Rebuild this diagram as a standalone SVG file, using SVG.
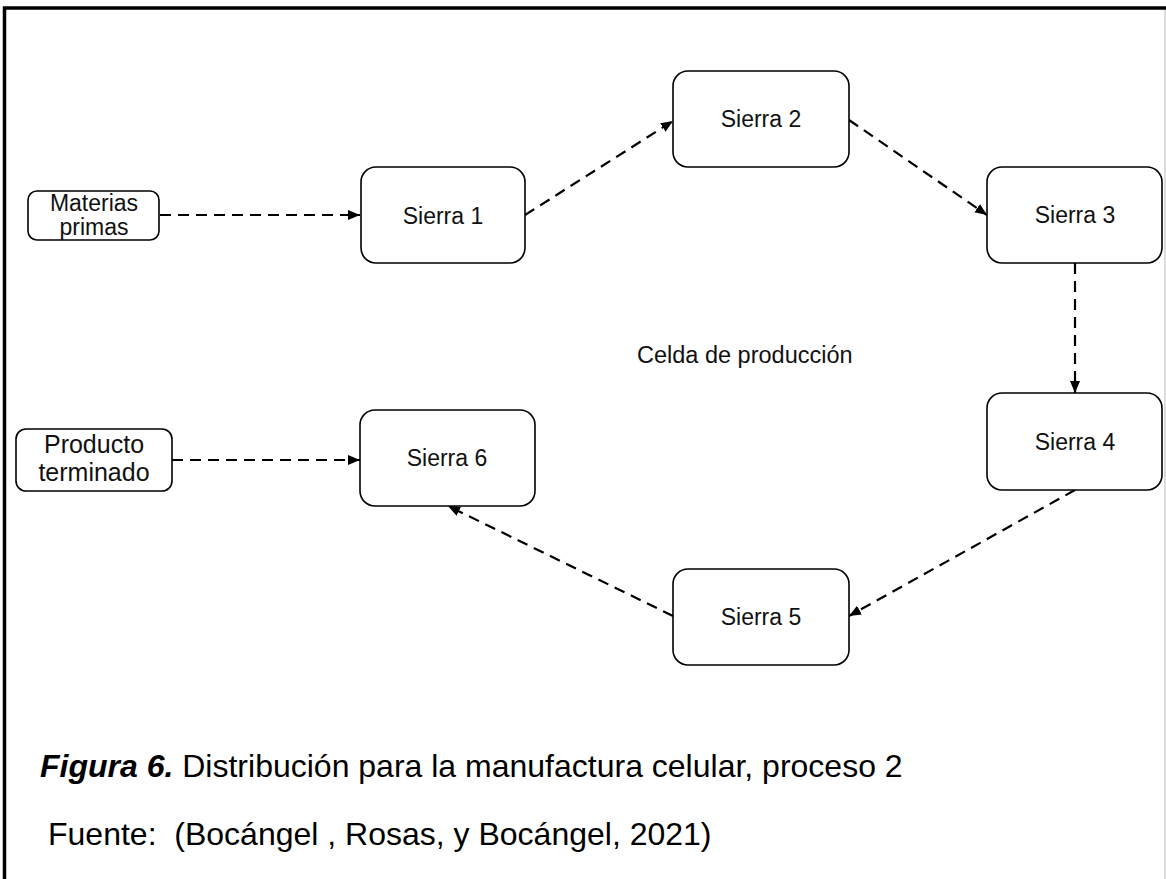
<svg xmlns="http://www.w3.org/2000/svg" width="1166" height="879" viewBox="0 0 1166 879">
  <defs>
    <style>
      .box { fill: #ffffff; stroke: #000000; stroke-width: 1.6; }
      .lbl { font-family: "Liberation Sans", Arial, sans-serif; font-size: 23px; fill: #111111; text-anchor: middle; }
      .flow { fill: none; stroke: #000000; stroke-width: 2.2; stroke-dasharray: 11 7; }
      .cap { font-family: "Liberation Sans", Arial, sans-serif; font-size: 32px; fill: #000000; }
    </style>
    <marker id="head" markerUnits="userSpaceOnUse" markerWidth="14" markerHeight="12" refX="12" refY="5" orient="auto">
      <path d="M0,0 L12,5 L0,10 Z" fill="#000000"/>
    </marker>
  </defs>

  <rect width="1166" height="879" fill="#ffffff"/>

  <!-- outer frame -->
  <path d="M4.5,879 V8 H1166" fill="none" stroke="#000000" stroke-width="3.5"/>
  <line x1="1165" y1="10" x2="1165" y2="879" stroke="#c4c4c4" stroke-width="1.2"/>

  <!-- connectors -->
  <g id="connectors">
    <line class="flow" x1="160" y1="215" x2="360" y2="215" marker-end="url(#head)"/>
    <line class="flow" x1="525" y1="215" x2="673" y2="121" marker-end="url(#head)"/>
    <line class="flow" x1="849" y1="120" x2="987" y2="215" marker-end="url(#head)"/>
    <line class="flow" x1="1075" y1="263" x2="1075" y2="393" marker-end="url(#head)"/>
    <line class="flow" x1="1075" y1="490" x2="849" y2="616" marker-end="url(#head)"/>
    <line class="flow" x1="673" y1="616" x2="448" y2="506" marker-end="url(#head)"/>
    <line class="flow" x1="172" y1="460" x2="360" y2="460" marker-end="url(#head)"/>
  </g>

  <!-- nodes -->
  <g id="materias-primas">
    <rect class="box" x="28" y="191" width="131" height="49" rx="9"/>
    <text class="lbl" x="94" y="211">Materias</text>
    <text class="lbl" x="94" y="235">primas</text>
  </g>
  <g id="sierra-1">
    <rect class="box" x="361" y="167" width="164" height="96" rx="15"/>
    <text class="lbl" x="443" y="224">Sierra 1</text>
  </g>
  <g id="sierra-2">
    <rect class="box" x="673" y="71" width="176" height="96" rx="15"/>
    <text class="lbl" x="761" y="127">Sierra 2</text>
  </g>
  <g id="sierra-3">
    <rect class="box" x="987" y="167" width="175" height="96" rx="15"/>
    <text class="lbl" x="1075" y="223">Sierra 3</text>
  </g>
  <g id="sierra-4">
    <rect class="box" x="987" y="393" width="175" height="97" rx="15"/>
    <text class="lbl" x="1075" y="450">Sierra 4</text>
  </g>
  <g id="sierra-5">
    <rect class="box" x="673" y="569" width="176" height="96" rx="15"/>
    <text class="lbl" x="761" y="625">Sierra 5</text>
  </g>
  <g id="sierra-6">
    <rect class="box" x="360" y="410" width="175" height="96" rx="15"/>
    <text class="lbl" x="447" y="466">Sierra 6</text>
  </g>
  <g id="producto-terminado">
    <rect class="box" x="16" y="429" width="156" height="62" rx="10"/>
    <text class="lbl" x="94" y="453" style="font-size:25px">Producto</text>
    <text class="lbl" x="94" y="481" style="font-size:25px">terminado</text>
  </g>

  <!-- cell label -->
  <text class="lbl" x="637" y="363" style="text-anchor:start;font-size:23.5px">Celda de producción</text>

  <!-- caption and source -->
  <text class="cap" x="40" y="777"><tspan font-weight="bold" font-style="italic">Figura 6.</tspan> Distribución para la manufactura celular, proceso 2</text>
  <text class="cap" x="48" y="845" xml:space="preserve">Fuente:  (Bocángel , Rosas, y Bocángel, 2021)</text>
</svg>
